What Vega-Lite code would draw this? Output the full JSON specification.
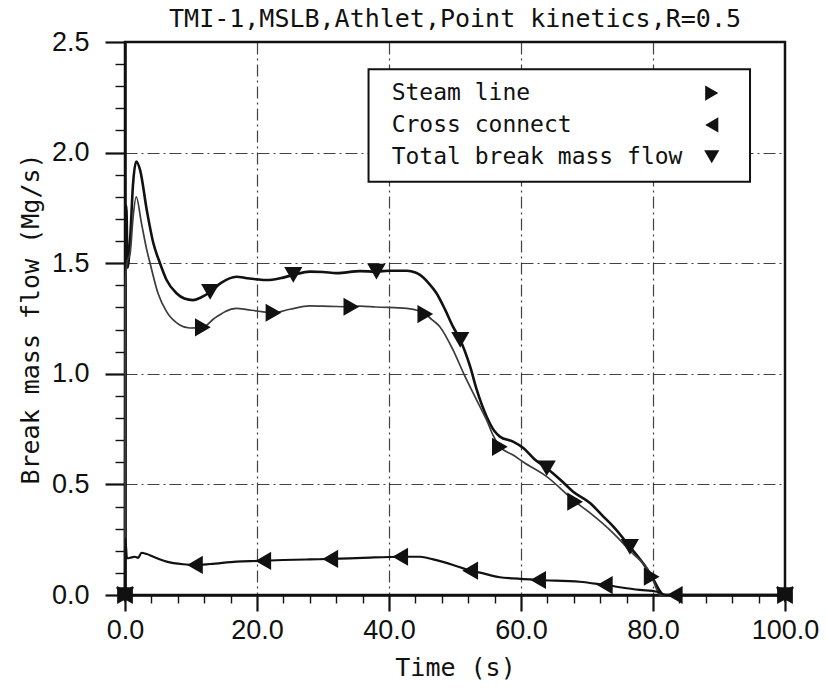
{
  "$schema": "https://vega.github.io/schema/vega-lite/v6.json",
  "width": 660,
  "height": 553,
  "autosize": {"type": "none"},
  "padding": {"left": 125, "top": 42, "right": 42, "bottom": 95},
  "background": "white",
  "title": {
    "text": "TMI-1,MSLB,Athlet,Point kinetics,R=0.5",
    "font": "DejaVu Sans Mono",
    "fontSize": 25,
    "fontWeight": "normal",
    "color": "#111111",
    "anchor": "middle",
    "offset": -4
  },
  "config": {
    "view": {"stroke": "#111111", "strokeWidth": 2.5},
    "axis": {
      "domainColor": "#111111",
      "domainWidth": 2.5,
      "tickColor": "#111111",
      "labelFont": "Liberation Sans",
      "labelFontSize": 27,
      "labelColor": "#111111",
      "labelOverlap": false,
      "labelFlush": false,
      "titleFont": "DejaVu Sans Mono",
      "titleFontSize": 25,
      "titleFontWeight": "normal",
      "titleColor": "#111111",
      "grid": true,
      "gridColor": "#222222",
      "gridWidth": 1.2,
      "gridDash": [12, 4, 2, 4]
    }
  },
  "datasets": {
    "curves": [
      {"series": "Total break mass flow", "t": 0, "v": 0},
      {"series": "Total break mass flow", "t": 0.05, "v": 1.45},
      {"series": "Total break mass flow", "t": 0.2, "v": 1.76},
      {"series": "Total break mass flow", "t": 0.4, "v": 1.48},
      {"series": "Total break mass flow", "t": 0.8, "v": 1.62},
      {"series": "Total break mass flow", "t": 1.2, "v": 1.85},
      {"series": "Total break mass flow", "t": 1.7, "v": 1.96},
      {"series": "Total break mass flow", "t": 2.3, "v": 1.92},
      {"series": "Total break mass flow", "t": 3.3, "v": 1.74},
      {"series": "Total break mass flow", "t": 4.3, "v": 1.59},
      {"series": "Total break mass flow", "t": 5.3, "v": 1.5},
      {"series": "Total break mass flow", "t": 6.3, "v": 1.424},
      {"series": "Total break mass flow", "t": 7.8, "v": 1.364},
      {"series": "Total break mass flow", "t": 9.0, "v": 1.34},
      {"series": "Total break mass flow", "t": 10.3, "v": 1.333},
      {"series": "Total break mass flow", "t": 11.5, "v": 1.345},
      {"series": "Total break mass flow", "t": 12.9, "v": 1.37},
      {"series": "Total break mass flow", "t": 14.5, "v": 1.41},
      {"series": "Total break mass flow", "t": 16.9, "v": 1.439},
      {"series": "Total break mass flow", "t": 18.5, "v": 1.432},
      {"series": "Total break mass flow", "t": 20.0, "v": 1.427},
      {"series": "Total break mass flow", "t": 21.5, "v": 1.424},
      {"series": "Total break mass flow", "t": 23.5, "v": 1.432},
      {"series": "Total break mass flow", "t": 25.5, "v": 1.447},
      {"series": "Total break mass flow", "t": 28.0, "v": 1.462},
      {"series": "Total break mass flow", "t": 30.0, "v": 1.46},
      {"series": "Total break mass flow", "t": 32.1, "v": 1.455},
      {"series": "Total break mass flow", "t": 35.6, "v": 1.464},
      {"series": "Total break mass flow", "t": 38.1, "v": 1.462},
      {"series": "Total break mass flow", "t": 40.0, "v": 1.466},
      {"series": "Total break mass flow", "t": 42.7, "v": 1.466},
      {"series": "Total break mass flow", "t": 44.0, "v": 1.458},
      {"series": "Total break mass flow", "t": 44.7, "v": 1.447},
      {"series": "Total break mass flow", "t": 46.0, "v": 1.41},
      {"series": "Total break mass flow", "t": 47.2, "v": 1.364},
      {"series": "Total break mass flow", "t": 48.5, "v": 1.29},
      {"series": "Total break mass flow", "t": 49.7, "v": 1.213},
      {"series": "Total break mass flow", "t": 50.8, "v": 1.153},
      {"series": "Total break mass flow", "t": 52.3, "v": 1.032},
      {"series": "Total break mass flow", "t": 53.3, "v": 0.927},
      {"series": "Total break mass flow", "t": 54.8, "v": 0.806},
      {"series": "Total break mass flow", "t": 56.0, "v": 0.74},
      {"series": "Total break mass flow", "t": 56.8, "v": 0.716},
      {"series": "Total break mass flow", "t": 58.8, "v": 0.693},
      {"series": "Total break mass flow", "t": 60.4, "v": 0.663},
      {"series": "Total break mass flow", "t": 62.0, "v": 0.615},
      {"series": "Total break mass flow", "t": 63.9, "v": 0.573},
      {"series": "Total break mass flow", "t": 66.0, "v": 0.52},
      {"series": "Total break mass flow", "t": 67.9, "v": 0.467},
      {"series": "Total break mass flow", "t": 70.5, "v": 0.415},
      {"series": "Total break mass flow", "t": 72.3, "v": 0.36},
      {"series": "Total break mass flow", "t": 74.0, "v": 0.309},
      {"series": "Total break mass flow", "t": 76.5, "v": 0.218},
      {"series": "Total break mass flow", "t": 78.5, "v": 0.143},
      {"series": "Total break mass flow", "t": 80.1, "v": 0.068},
      {"series": "Total break mass flow", "t": 81.1, "v": 0.015},
      {"series": "Total break mass flow", "t": 81.6, "v": 0},
      {"series": "Total break mass flow", "t": 100, "v": 0},

      {"series": "Steam line", "t": 0, "v": 0},
      {"series": "Steam line", "t": 0.05, "v": 1.4},
      {"series": "Steam line", "t": 0.3, "v": 1.5},
      {"series": "Steam line", "t": 0.8, "v": 1.55},
      {"series": "Steam line", "t": 1.2, "v": 1.7},
      {"series": "Steam line", "t": 1.7, "v": 1.8},
      {"series": "Steam line", "t": 2.5, "v": 1.68},
      {"series": "Steam line", "t": 3.3, "v": 1.56},
      {"series": "Steam line", "t": 3.8, "v": 1.5},
      {"series": "Steam line", "t": 5.0, "v": 1.364},
      {"series": "Steam line", "t": 6.3, "v": 1.281},
      {"series": "Steam line", "t": 8.3, "v": 1.221},
      {"series": "Steam line", "t": 9.8, "v": 1.207},
      {"series": "Steam line", "t": 11.8, "v": 1.21},
      {"series": "Steam line", "t": 13.5, "v": 1.25},
      {"series": "Steam line", "t": 16.9, "v": 1.296},
      {"series": "Steam line", "t": 18.5, "v": 1.29},
      {"series": "Steam line", "t": 20.0, "v": 1.284},
      {"series": "Steam line", "t": 22.5, "v": 1.276},
      {"series": "Steam line", "t": 25.0, "v": 1.292},
      {"series": "Steam line", "t": 28.0, "v": 1.307},
      {"series": "Steam line", "t": 31.0, "v": 1.305},
      {"series": "Steam line", "t": 34.3, "v": 1.303},
      {"series": "Steam line", "t": 35.6, "v": 1.306},
      {"series": "Steam line", "t": 38.0, "v": 1.302},
      {"series": "Steam line", "t": 42.7, "v": 1.296},
      {"series": "Steam line", "t": 44.5, "v": 1.285},
      {"series": "Steam line", "t": 45.5, "v": 1.27},
      {"series": "Steam line", "t": 46.5, "v": 1.245},
      {"series": "Steam line", "t": 47.7, "v": 1.213},
      {"series": "Steam line", "t": 49.7, "v": 1.108},
      {"series": "Steam line", "t": 51.3, "v": 1.002},
      {"series": "Steam line", "t": 53.3, "v": 0.88},
      {"series": "Steam line", "t": 54.8, "v": 0.79},
      {"series": "Steam line", "t": 55.8, "v": 0.72},
      {"series": "Steam line", "t": 56.8, "v": 0.67},
      {"series": "Steam line", "t": 58.8, "v": 0.633},
      {"series": "Steam line", "t": 60.4, "v": 0.6},
      {"series": "Steam line", "t": 63.9, "v": 0.535},
      {"series": "Steam line", "t": 68.2, "v": 0.422},
      {"series": "Steam line", "t": 70.5, "v": 0.37},
      {"series": "Steam line", "t": 74.0, "v": 0.279},
      {"series": "Steam line", "t": 76.5, "v": 0.2},
      {"series": "Steam line", "t": 79.8, "v": 0.083},
      {"series": "Steam line", "t": 80.6, "v": 0.023},
      {"series": "Steam line", "t": 81.0, "v": 0},
      {"series": "Steam line", "t": 100, "v": 0},

      {"series": "Cross connect", "t": 0, "v": 0},
      {"series": "Cross connect", "t": 0.05, "v": 0.256},
      {"series": "Cross connect", "t": 0.3, "v": 0.166},
      {"series": "Cross connect", "t": 1.0, "v": 0.17},
      {"series": "Cross connect", "t": 1.5, "v": 0.173},
      {"series": "Cross connect", "t": 2.0, "v": 0.168},
      {"series": "Cross connect", "t": 2.5, "v": 0.191},
      {"series": "Cross connect", "t": 3.3, "v": 0.185},
      {"series": "Cross connect", "t": 4.3, "v": 0.173},
      {"series": "Cross connect", "t": 6.3, "v": 0.151},
      {"series": "Cross connect", "t": 8.8, "v": 0.139},
      {"series": "Cross connect", "t": 10.6, "v": 0.136},
      {"series": "Cross connect", "t": 12.9, "v": 0.14},
      {"series": "Cross connect", "t": 16.9, "v": 0.151},
      {"series": "Cross connect", "t": 20.2, "v": 0.154},
      {"series": "Cross connect", "t": 24.0, "v": 0.158},
      {"series": "Cross connect", "t": 28.0, "v": 0.161},
      {"series": "Cross connect", "t": 31.1, "v": 0.163},
      {"series": "Cross connect", "t": 36.0, "v": 0.168},
      {"series": "Cross connect", "t": 41.7, "v": 0.173},
      {"series": "Cross connect", "t": 44.7, "v": 0.173},
      {"series": "Cross connect", "t": 46.7, "v": 0.161},
      {"series": "Cross connect", "t": 49.7, "v": 0.136},
      {"series": "Cross connect", "t": 52.3, "v": 0.11},
      {"series": "Cross connect", "t": 53.8, "v": 0.101},
      {"series": "Cross connect", "t": 56.8, "v": 0.08},
      {"series": "Cross connect", "t": 58.8, "v": 0.075},
      {"series": "Cross connect", "t": 62.6, "v": 0.068},
      {"series": "Cross connect", "t": 68.9, "v": 0.06},
      {"series": "Cross connect", "t": 72.7, "v": 0.045},
      {"series": "Cross connect", "t": 78.0, "v": 0.023},
      {"series": "Cross connect", "t": 80.6, "v": 0.015},
      {"series": "Cross connect", "t": 82.0, "v": 0},
      {"series": "Cross connect", "t": 100, "v": 0}
    ],
    "markers": [
      {"series": "Total break mass flow", "t": 0, "v": 0},
      {"series": "Total break mass flow", "t": 12.9, "v": 1.37},
      {"series": "Total break mass flow", "t": 25.5, "v": 1.447},
      {"series": "Total break mass flow", "t": 38.1, "v": 1.462},
      {"series": "Total break mass flow", "t": 50.8, "v": 1.153},
      {"series": "Total break mass flow", "t": 63.9, "v": 0.573},
      {"series": "Total break mass flow", "t": 76.5, "v": 0.218},
      {"series": "Total break mass flow", "t": 100, "v": 0},
      {"series": "Steam line", "t": 0, "v": 0},
      {"series": "Steam line", "t": 11.8, "v": 1.21},
      {"series": "Steam line", "t": 22.5, "v": 1.276},
      {"series": "Steam line", "t": 34.3, "v": 1.303},
      {"series": "Steam line", "t": 45.5, "v": 1.27},
      {"series": "Steam line", "t": 56.8, "v": 0.67},
      {"series": "Steam line", "t": 68.2, "v": 0.422},
      {"series": "Steam line", "t": 79.8, "v": 0.083},
      {"series": "Steam line", "t": 100, "v": 0},
      {"series": "Cross connect", "t": 0, "v": 0},
      {"series": "Cross connect", "t": 10.6, "v": 0.136},
      {"series": "Cross connect", "t": 20.95, "v": 0.154},
      {"series": "Cross connect", "t": 31.1, "v": 0.163},
      {"series": "Cross connect", "t": 41.7, "v": 0.173},
      {"series": "Cross connect", "t": 52.3, "v": 0.11},
      {"series": "Cross connect", "t": 62.6, "v": 0.068},
      {"series": "Cross connect", "t": 72.7, "v": 0.045},
      {"series": "Cross connect", "t": 83.3, "v": 0},
      {"series": "Cross connect", "t": 100, "v": 0}
    ],
    "legendbox": [{"panel": "legend"}]
  },
  "layer": [
    {
      "data": {"name": "curves"},
      "mark": {"type": "line", "interpolate": "monotone"},
      "encoding": {
        "x": {
          "field": "t",
          "type": "quantitative",
          "scale": {"domain": [0, 100], "nice": false, "zero": false},
          "axis": {
            "title": "Time (s)",
            "titlePadding": 12,
            "values": [0, 4, 8, 12, 16, 20, 24, 28, 32, 36, 40, 44, 48, 52, 56, 60, 64, 68, 72, 76, 80, 84, 88, 92, 96, 100],
            "tickCount": 100,
            "labelExpr": "datum.value % 20 === 0 ? format(datum.value, '.1f') : ''",
            "labelOverlap": false,
            "labelFlush": false,
            "labelPadding": 6,
            "tickSize": {"condition": {"test": "datum.value % 20 === 0", "value": 16}, "value": 8},
            "tickWidth": {"condition": {"test": "datum.value % 20 === 0", "value": 2.2}, "value": 1.4},
            "gridOpacity": {"condition": {"test": "datum.value % 20 === 0 && datum.value > 0 && datum.value < 100", "value": 0.85}, "value": 0}
          }
        },
        "y": {
          "field": "v",
          "type": "quantitative",
          "scale": {"domain": [0, 2.5], "nice": false},
          "axis": {
            "title": "Break mass flow (Mg/s)",
            "titlePadding": 8,
            "values": [0, 0.1, 0.2, 0.3, 0.4, 0.5, 0.6, 0.7, 0.8, 0.9, 1.0, 1.1, 1.2, 1.3, 1.4, 1.5, 1.6, 1.7, 1.8, 1.9, 2.0, 2.1, 2.2, 2.3, 2.4, 2.5],
            "tickCount": 100,
            "labelExpr": "abs(datum.value * 2 - round(datum.value * 2)) < 0.001 ? format(datum.value, '.1f') : ''",
            "labelOverlap": false,
            "labelFlush": false,
            "labelPadding": 16,
            "tickSize": {"condition": {"test": "abs(datum.value * 2 - round(datum.value * 2)) < 0.001", "value": 20}, "value": 10},
            "tickWidth": {"condition": {"test": "abs(datum.value * 2 - round(datum.value * 2)) < 0.001", "value": 2.2}, "value": 1.4},
            "gridOpacity": {"condition": {"test": "abs(datum.value * 2 - round(datum.value * 2)) < 0.001 && datum.value > 0.01 && datum.value < 2.49", "value": 0.85}, "value": 0}
          }
        },
        "detail": {"field": "series", "type": "nominal"},
        "color": {
          "field": "series",
          "type": "nominal",
          "scale": {"domain": ["Steam line", "Cross connect", "Total break mass flow"], "range": ["#3c3c3c", "#111111", "#111111"]},
          "legend": null
        },
        "strokeWidth": {
          "field": "series",
          "type": "nominal",
          "scale": {"domain": ["Steam line", "Cross connect", "Total break mass flow"], "range": [1.7, 2.6, 2.6]},
          "legend": null
        }
      }
    },
    {
      "data": {"name": "markers"},
      "mark": {"type": "point", "filled": true, "size": 330, "color": "#111111", "opacity": 1},
      "encoding": {
        "x": {"field": "t", "type": "quantitative"},
        "y": {"field": "v", "type": "quantitative"},
        "shape": {
          "field": "series",
          "type": "nominal",
          "scale": {"domain": ["Steam line", "Cross connect", "Total break mass flow"], "range": ["triangle-right", "triangle-left", "triangle-down"]},
          "legend": null
        }
      }
    },
    {
      "data": {"name": "legendbox"},
      "layer": [
        {
          "mark": {"type": "rect", "fill": "white", "stroke": "#111111", "strokeWidth": 2},
          "encoding": {
            "x": {"datum": 36.9, "type": "quantitative"},
            "x2": {"datum": 94.7},
            "y": {"datum": 2.377, "type": "quantitative"},
            "y2": {"datum": 1.868}
          }
        },
        {
          "mark": {"type": "text", "text": "Steam line", "align": "left", "baseline": "middle", "font": "DejaVu Sans Mono", "fontSize": 23, "color": "#111111"},
          "encoding": {"x": {"datum": 40.4, "type": "quantitative"}, "y": {"datum": 2.269, "type": "quantitative"}}
        },
        {
          "mark": {"type": "text", "text": "Cross connect", "align": "left", "baseline": "middle", "font": "DejaVu Sans Mono", "fontSize": 23, "color": "#111111"},
          "encoding": {"x": {"datum": 40.4, "type": "quantitative"}, "y": {"datum": 2.125, "type": "quantitative"}}
        },
        {
          "mark": {"type": "text", "text": "Total break mass flow", "align": "left", "baseline": "middle", "font": "DejaVu Sans Mono", "fontSize": 23, "color": "#111111"},
          "encoding": {"x": {"datum": 40.4, "type": "quantitative"}, "y": {"datum": 1.981, "type": "quantitative"}}
        },
        {
          "mark": {"type": "point", "filled": true, "shape": "triangle-right", "size": 230, "color": "#111111", "opacity": 1},
          "encoding": {"x": {"datum": 88.9, "type": "quantitative"}, "y": {"datum": 2.269, "type": "quantitative"}}
        },
        {
          "mark": {"type": "point", "filled": true, "shape": "triangle-left", "size": 230, "color": "#111111", "opacity": 1},
          "encoding": {"x": {"datum": 88.9, "type": "quantitative"}, "y": {"datum": 2.125, "type": "quantitative"}}
        },
        {
          "mark": {"type": "point", "filled": true, "shape": "triangle-down", "size": 230, "color": "#111111", "opacity": 1},
          "encoding": {"x": {"datum": 88.9, "type": "quantitative"}, "y": {"datum": 1.981, "type": "quantitative"}}
        }
      ]
    }
  ]
}
